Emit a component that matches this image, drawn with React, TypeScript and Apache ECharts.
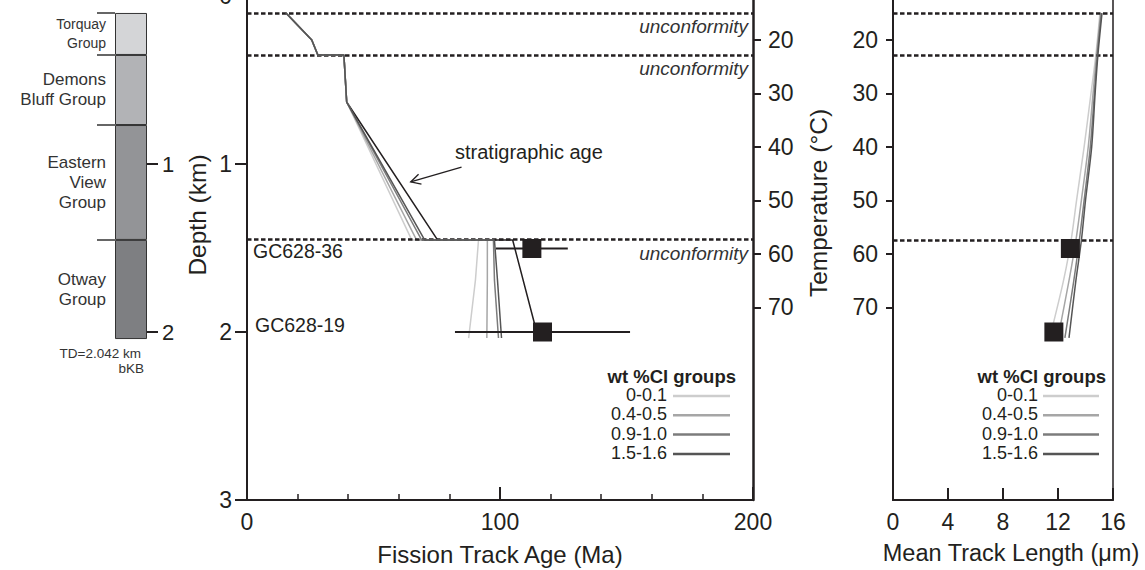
import React, { useEffect, useRef } from "react";
import * as echarts from "echarts";

// ---------- data ----------
const SURFACE_T = 11.8; // °C at 0 km
const GRADIENT = 31.4; // °C per km
const DEPTH_MAX = 3;

const DEPTH_TICKS = [0, 1, 2, 3];
const TEMP_TICKS = [20, 30, 40, 50, 60, 70];
const COLUMN_TICKS = [1, 2];

const UNCONFORMITY_KM = [0.101, 0.351, 1.452];

const UNIT_NAMES = ["Torquay\nGroup", "Demons\nBluff Group", "Eastern\nView\nGroup", "Otway\nGroup"];
const UNIT_TOP_KM = [0.101, 0.351, 0.768, 1.452];
const UNIT_BASE_KM = [0.351, 0.768, 1.452, 2.042];
const UNIT_FILLS = ["#d4d5d7", "#b2b3b6", "#939497", "#7e7f82"];

const CL_GROUPS = ["0-0.1", "0.4-0.5", "0.9-1.0", "1.5-1.6"];
const CL_COLORS = ["#cdcdcd", "#a6a6a6", "#7c7c7c", "#555555"];

// fission track age model paths [age Ma, depth km]
const SHALLOW_PATH = [
  [15.4, 0.101],
  [25.6, 0.262],
  [28.0, 0.351],
  [38.3, 0.351],
  [39.4, 0.631],
];
const AGE_DEEP_0_01 = [[65.1, 1.452], [91.5, 1.452], [90.3, 1.69], [87.6, 2.036]];
const AGE_DEEP_04_05 = [[67.0, 1.452], [95.0, 1.452], [95.0, 1.69], [94.8, 2.036]];
const AGE_DEEP_09_10 = [[69.0, 1.452], [97.4, 1.452], [97.8, 1.69], [99.4, 2.036]];
const AGE_DEEP_15_16 = [[70.2, 1.452], [97.8, 1.452], [99.0, 1.69], [100.6, 2.036]];
const STRAT_DEEP = [[75.3, 1.452], [105.0, 1.452], [114.5, 2.0]];

// mean track length model [µm] at temperatures
const MTL_TEMP_C = [15.0, 22.9, 30, 40, 50, 57.5, 65, 75.7];
const MTL_0_01 = [15.05, 14.75, 14.4, 13.9, 13.35, 12.95, 12.4, 11.4];
const MTL_04_05 = [15.1, 14.8, 14.55, 14.2, 13.7, 13.3, 12.8, 12.0];
const MTL_09_10 = [15.15, 14.85, 14.65, 14.35, 13.9, 13.55, 13.15, 12.5];
const MTL_15_16 = [15.2, 14.9, 14.7, 14.45, 14.0, 13.7, 13.3, 12.8];

// samples
const SAMPLE_NAMES = ["GC628-36", "GC628-19"];
const SAMPLE_DEPTH_KM = [1.503, 2.0];
const SAMPLE_AGE_MA = [112.6, 116.8];
const SAMPLE_AGE_ERR = [14.2, 34.6];
const SAMPLE_MTL_UM = [12.9, 11.7];

// annotation arrow (data coords: Ma, km)
const ARROW_FROM = [84.8, 1.018];
const ARROW_TO = [64.7, 1.107];

export default function App() {
  const ref = useRef<HTMLDivElement>(null);

  useEffect(() => {
    if (!ref.current) return;
    const chart = echarts.init(ref.current, null, { renderer: "svg" });
    const FONT = '"Liberation Sans", Arial, Helvetica, sans-serif';
    const TXT = "#231f20";
    const INK = "#231f20";
    const tMax = SURFACE_T + GRADIENT * DEPTH_MAX;
    const toT = (d: number) => +(SURFACE_T + GRADIENT * d).toFixed(2);

    const ageDeep = [AGE_DEEP_0_01, AGE_DEEP_04_05, AGE_DEEP_09_10, AGE_DEEP_15_16];
    const mtl = [MTL_0_01, MTL_04_05, MTL_09_10, MTL_15_16];

    const series: any[] = [];

    // stratigraphic age line + unconformities (drawn beneath model lines)
    series.push({
      type: "line",
      name: "stratigraphic age",
      xAxisIndex: 0,
      yAxisIndex: 0,
      data: SHALLOW_PATH.concat(STRAT_DEEP),
      symbol: "none",
      lineStyle: { color: INK, width: 1.5 },
      z: 2,
      silent: true,
      markLine: {
        silent: true,
        symbol: ["none", "none"],
        lineStyle: { color: INK, width: 2.5, type: [4.5, 2.5] },
        label: {
          show: true,
          position: "insideEndBottom",
          formatter: "unconformity",
          fontStyle: "italic",
          fontSize: 19,
          color: "#333",
          fontFamily: FONT,
          distance: [5, 4],
        },
        data: UNCONFORMITY_KM.map((d) => ({ yAxis: d })),
      },
    });

    // left panel model lines
    CL_GROUPS.forEach((g, i) => {
      series.push({
        type: "line",
        name: g,
        xAxisIndex: 0,
        yAxisIndex: 0,
        data: SHALLOW_PATH.concat(ageDeep[i]),
        symbol: "none",
        lineStyle: { color: CL_COLORS[i], width: 1.5 },
        z: 3 + i,
        silent: true,
      });
    });

    // error bars
    SAMPLE_NAMES.forEach((n, i) => {
      series.push({
        type: "line",
        name: n + " error",
        xAxisIndex: 0,
        yAxisIndex: 0,
        data: [
          [SAMPLE_AGE_MA[i] - SAMPLE_AGE_ERR[i], SAMPLE_DEPTH_KM[i]],
          [SAMPLE_AGE_MA[i] + SAMPLE_AGE_ERR[i], SAMPLE_DEPTH_KM[i]],
        ],
        symbol: "none",
        lineStyle: { color: INK, width: 1.8 },
        z: 9,
        silent: true,
      });
    });

    series.push({
      type: "scatter",
      name: "FT age",
      xAxisIndex: 0,
      yAxisIndex: 0,
      data: SAMPLE_NAMES.map((_, i) => [SAMPLE_AGE_MA[i], SAMPLE_DEPTH_KM[i]]),
      symbol: "rect",
      symbolSize: 19,
      itemStyle: { color: INK, opacity: 1 },
      z: 10,
      silent: true,
    });

    // right panel model lines
    CL_GROUPS.forEach((g, i) => {
      series.push({
        type: "line",
        name: g,
        xAxisIndex: 1,
        yAxisIndex: 2,
        data: MTL_TEMP_C.map((t, k) => [mtl[i][k], t]),
        symbol: "none",
        smooth: 0.3,
        lineStyle: { color: CL_COLORS[i], width: 1.5 },
        z: 3 + i,
        silent: true,
      });
    });

    series.push({
      type: "scatter",
      name: "MTL",
      xAxisIndex: 1,
      yAxisIndex: 2,
      data: SAMPLE_NAMES.map((_, i) => [SAMPLE_MTL_UM[i], toT(SAMPLE_DEPTH_KM[i])]),
      symbol: "rect",
      symbolSize: 19,
      itemStyle: { color: INK, opacity: 1 },
      z: 10,
      silent: true,
      markLine: {
        silent: true,
        symbol: ["none", "none"],
        lineStyle: { color: INK, width: 2.5, type: [4.5, 2.5] },
        label: { show: false },
        data: UNCONFORMITY_KM.map((d) => ({ yAxis: toT(d) })),
      },
    });

    // stratigraphic column (stacked bars)
    series.push({
      type: "bar",
      name: "above",
      xAxisIndex: 2,
      yAxisIndex: 3,
      stack: "col",
      barWidth: "100%",
      data: [UNIT_TOP_KM[0]],
      itemStyle: { color: "rgba(0,0,0,0)", borderWidth: 0 },
      silent: true,
    });
    UNIT_NAMES.forEach((name, i) => {
      const small = i === 0;
      series.push({
        type: "bar",
        name: name.replace(/\n/g, " "),
        xAxisIndex: 2,
        yAxisIndex: 3,
        stack: "col",
        barWidth: "100%",
        data: [+(UNIT_BASE_KM[i] - UNIT_TOP_KM[i]).toFixed(3)],
        itemStyle: { color: UNIT_FILLS[i], borderColor: "#333", borderWidth: 1 },
        silent: true,
        label: {
          show: true,
          position: "left",
          distance: 9,
          formatter: name,
          fontSize: small ? 14 : 17,
          lineHeight: small ? 19 : 20,
          color: "#333",
          fontFamily: FONT,
        },
      });
    });

    const axisLine = (w: number) => ({ show: true, onZero: false, lineStyle: { color: INK, width: w } });
    const hiddenLine = { show: true, onZero: false, lineStyle: { color: INK, width: 1, opacity: 0 } };

    const gridBase = { top: -4, bottom: 70, outerBoundsMode: "none", containLabel: false };

    const option: any = {
      animation: false,
      backgroundColor: "#ffffff",
      textStyle: { fontFamily: FONT },
      grid: [
        { ...gridBase, left: 247, width: 506 },
        {
          ...gridBase,
          left: 893,
          width: 220,
          show: true,
          borderColor: INK,
          borderWidth: 1.5,
          backgroundColor: "rgba(0,0,0,0)",
        },
        { ...gridBase, left: 115, width: 32 },
      ],
      xAxis: [
        {
          gridIndex: 0,
          type: "value",
          min: 0,
          max: 200,
          interval: 100,
          axisLine: axisLine(2),
          axisTick: { show: true, inside: true, length: 13, lineStyle: { color: INK, width: 2 } },
          minorTick: { show: true, splitNumber: 5, length: 6, lineStyle: { color: INK, width: 1.5 } },
          splitLine: { show: false },
          minorSplitLine: { show: false },
          axisLabel: { show: true, fontSize: 23, color: TXT, margin: 10, fontFamily: FONT },
          name: "Fission Track Age (Ma)",
          nameLocation: "middle",
          nameGap: 42,
          nameTextStyle: { fontSize: 24, color: TXT, fontFamily: FONT },
        },
        {
          gridIndex: 1,
          type: "value",
          min: 0,
          max: 16,
          interval: 4,
          axisLine: axisLine(2),
          axisTick: { show: true, inside: true, length: 12, lineStyle: { color: INK, width: 2 } },
          splitLine: { show: false },
          axisLabel: { show: true, fontSize: 23, color: TXT, margin: 10, fontFamily: FONT },
        },
        {
          gridIndex: 2,
          type: "category",
          data: ["column"],
          show: false,
          axisLine: { onZero: false },
        },
      ],
      yAxis: [
        {
          gridIndex: 0,
          type: "value",
          min: 0,
          max: DEPTH_MAX,
          interval: 1,
          inverse: true,
          axisLine: axisLine(2),
          axisTick: { show: true, length: 12, lineStyle: { color: INK, width: 2 } },
          axisLabel: { show: true, fontSize: 23, color: TXT, margin: 15, fontFamily: FONT, customValues: DEPTH_TICKS },
          splitLine: { show: false },
        },
        {
          gridIndex: 0,
          type: "value",
          position: "right",
          min: SURFACE_T,
          max: tMax,
          inverse: true,
          axisLine: axisLine(2.5),
          axisTick: { show: true, length: 8, customValues: TEMP_TICKS, lineStyle: { color: INK, width: 2 } },
          axisLabel: { show: true, fontSize: 23, color: TXT, margin: 15, fontFamily: FONT, customValues: TEMP_TICKS },
          splitLine: { show: false },
        },
        {
          gridIndex: 1,
          type: "value",
          position: "left",
          min: SURFACE_T,
          max: tMax,
          inverse: true,
          axisLine: axisLine(2),
          axisTick: { show: true, length: 7, customValues: TEMP_TICKS, lineStyle: { color: INK, width: 2 } },
          axisLabel: { show: true, fontSize: 23, color: TXT, margin: 15, fontFamily: FONT, customValues: TEMP_TICKS },
          splitLine: { show: false },
        },
        {
          gridIndex: 2,
          type: "value",
          position: "right",
          min: 0,
          max: DEPTH_MAX,
          inverse: true,
          axisLine: hiddenLine,
          axisTick: { show: true, length: 11, customValues: COLUMN_TICKS, lineStyle: { color: INK, width: 2 } },
          axisLabel: { show: true, fontSize: 22, color: TXT, margin: 15, fontFamily: FONT, customValues: COLUMN_TICKS },
          splitLine: { show: false },
        },
        {
          gridIndex: 2,
          type: "value",
          position: "left",
          min: 0,
          max: DEPTH_MAX,
          inverse: true,
          axisLine: hiddenLine,
          axisTick: { show: true, length: 18, customValues: UNIT_TOP_KM, lineStyle: { color: "#333", width: 1.5 } },
          axisLabel: { show: false },
          splitLine: { show: false },
        },
      ],
      series,
    };

    chart.setOption(option);

    // graphics (titles, annotations, legends)
    const g: any[] = [];
    const text = (t: string, x: number, y: number, opts: any = {}) => ({
      type: "text",
      x,
      y,
      rotation: opts.rotation || 0,
      silent: true,
      z: 50,
      style: {
        text: t,
        fontSize: opts.fontSize || 24,
        fontFamily: FONT,
        fontWeight: opts.fontWeight || "normal",
        fontStyle: opts.fontStyle || "normal",
        fill: opts.fill || TXT,
        align: opts.align || "center",
        verticalAlign: "middle",
      },
    });

    g.push(text("Depth (km)", 197, 215, { rotation: Math.PI / 2, fontSize: 24.5 }));
    g.push(text("Temperature (\u00b0C)", 818, 203, { rotation: Math.PI / 2, fontSize: 24.5 }));
    g.push(text("Mean Track Length (\u03bcm)", 1011, 553, { fontSize: 23.5 }));
    g.push(text("stratigraphic age", 455, 152, { align: "left", fontSize: 20 }));
    g.push(text(SAMPLE_NAMES[0], 253, 251, { align: "left", fontSize: 19.5 }));
    g.push(text(SAMPLE_NAMES[1], 255, 325, { align: "left", fontSize: 19.5 }));
    g.push(text("TD=2.042 km", 141, 353, { align: "right", fontSize: 13.5, fill: "#333" }));
    g.push(text("bKB", 144, 368, { align: "right", fontSize: 13.5, fill: "#333" }));

    // arrow
    const p1 = chart.convertToPixel({ gridIndex: 0 }, ARROW_FROM) as number[];
    const p2 = chart.convertToPixel({ gridIndex: 0 }, ARROW_TO) as number[];
    if (p1 && p2) {
      const dx = p1[0] - p2[0];
      const dy = p1[1] - p2[1];
      const len = Math.sqrt(dx * dx + dy * dy) || 1;
      const ux = dx / len;
      const uy = dy / len;
      const hl = 11;
      const a = (28 * Math.PI) / 180;
      const rot = (ang: number) => [
        p2[0] + hl * (ux * Math.cos(ang) - uy * Math.sin(ang)),
        p2[1] + hl * (ux * Math.sin(ang) + uy * Math.cos(ang)),
      ];
      g.push({
        type: "line",
        silent: true,
        z: 50,
        shape: { x1: p1[0], y1: p1[1], x2: p2[0], y2: p2[1] },
        style: { stroke: INK, lineWidth: 1.3 },
      });
      g.push({
        type: "polyline",
        silent: true,
        z: 50,
        shape: { points: [rot(a), p2, rot(-a)] },
        style: { stroke: INK, lineWidth: 1.3, fill: null },
      });
    }

    // legends
    const legend = (textRight: number, lineX1: number, lineX2: number, titleRight: number) => {
      g.push(text("wt %Cl groups", titleRight, 376, { align: "right", fontSize: 18.5, fontWeight: "bold" }));
      CL_GROUPS.forEach((name, i) => {
        const y = 395 + i * 19.3;
        g.push(text(name, textRight, y, { align: "right", fontSize: 18 }));
        g.push({
          type: "line",
          silent: true,
          z: 50,
          shape: { x1: lineX1, y1: y + 1, x2: lineX2, y2: y + 1 },
          style: { stroke: CL_COLORS[i], lineWidth: 2.5 },
        });
      });
    };
    legend(667, 673, 730, 736);
    legend(1038, 1043, 1099, 1106);

    chart.setOption({ graphic: g });

    return () => chart.dispose();
  }, []);

  return (
    <div
      ref={ref}
      style={{ position: "fixed", left: 0, top: 0, width: 1145, height: 570, background: "#fff" }}
    />
  );
}
